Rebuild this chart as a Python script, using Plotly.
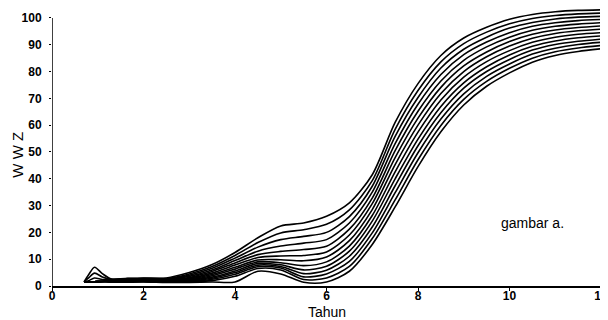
import plotly.graph_objects as go

# Time axis (Tahun)
tahun = [0.7, 0.8, 0.93, 1.1, 1.3, 1.6, 2.0, 2.5, 3.0, 3.5, 4.0, 4.5, 5.0, 5.5,
         6.0, 6.5, 7.0, 7.5, 8.0, 8.5, 9.0, 9.5, 10.0, 10.5, 11.0, 11.5, 12.0]

# Family of curves (top to bottom)
c0 = [1.5, 4.2, 7.0, 4.6, 2.6, 2.8, 3.0, 3.0, 5.0, 8.0, 12.5, 18.0, 22.4, 23.5, 26.0, 31.0, 41.5, 61.0, 75.5, 86.0, 92.5, 96.5, 99.5, 101.3, 102.3, 102.8, 103.0]
c1 = [1.5, 3.0, 4.8, 3.4, 2.5, 2.7, 2.9, 2.8, 4.5, 7.3, 11.4, 16.2, 19.8, 21.0, 23.0, 28.4, 39.3, 58.4, 72.9, 83.6, 90.4, 94.7, 97.8, 99.8, 100.9, 101.5, 101.8]
c2 = [1.5, 2.0, 3.0, 2.4, 2.4, 2.5, 2.7, 2.6, 4.0, 6.6, 10.4, 14.5, 17.3, 18.5, 20.0, 25.9, 37.2, 55.8, 70.3, 81.3, 88.3, 92.8, 96.2, 98.3, 99.6, 100.3, 100.6]
c3 = [1.5, 1.5, 1.6, 1.7, 2.3, 2.4, 2.6, 2.5, 3.6, 6.0, 9.5, 13.0, 14.9, 16.0, 17.3, 23.5, 35.0, 53.1, 67.8, 78.9, 86.3, 91.0, 94.5, 96.9, 98.2, 99.0, 99.4]
c4 = [1.5, 1.5, 1.6, 1.7, 2.2, 2.3, 2.5, 2.4, 3.2, 5.4, 8.6, 11.7, 12.9, 13.6, 14.8, 21.2, 32.8, 50.5, 65.2, 76.5, 84.2, 89.2, 92.8, 95.4, 96.9, 97.7, 98.2]
c5 = [1.5, 1.5, 1.6, 1.7, 2.1, 2.2, 2.4, 2.2, 2.9, 4.8, 7.8, 10.6, 11.2, 11.4, 12.7, 19.0, 30.7, 47.9, 62.6, 74.1, 82.1, 87.3, 91.2, 93.9, 95.5, 96.4, 97.0]
c6 = [1.5, 1.5, 1.6, 1.7, 2.0, 2.1, 2.3, 2.1, 2.6, 4.3, 7.0, 9.7, 9.8, 9.4, 10.8, 16.9, 28.5, 45.3, 60.0, 71.8, 80.0, 85.5, 89.5, 92.4, 94.2, 95.2, 95.8]
c7 = [1.5, 1.5, 1.6, 1.7, 1.9, 2.0, 2.1, 2.0, 2.3, 3.8, 6.3, 9.0, 8.7, 7.6, 9.0, 14.9, 26.3, 42.6, 57.4, 69.4, 77.9, 83.7, 87.8, 90.9, 92.8, 93.9, 94.5]
c8 = [1.5, 1.5, 1.6, 1.7, 1.8, 1.9, 2.0, 1.8, 2.1, 3.3, 5.6, 8.4, 7.9, 6.0, 7.4, 13.0, 24.2, 40.0, 54.8, 67.0, 75.8, 81.8, 86.2, 89.4, 91.4, 92.6, 93.3]
c9 = [1.5, 1.5, 1.6, 1.7, 1.7, 1.8, 1.9, 1.7, 1.9, 2.9, 5.0, 7.8, 7.3, 4.6, 5.9, 11.1, 22.0, 37.4, 52.3, 64.6, 73.8, 80.0, 84.5, 88.0, 90.1, 91.3, 92.1]
c10 = [1.5, 1.5, 1.6, 1.7, 1.6, 1.7, 1.8, 1.6, 1.7, 2.5, 4.4, 7.2, 6.7, 3.4, 4.5, 9.2, 19.8, 34.8, 49.7, 62.3, 71.7, 78.2, 82.8, 86.5, 88.7, 90.1, 90.9]
c11 = [1.5, 1.5, 1.6, 1.7, 1.5, 1.6, 1.6, 1.4, 1.5, 2.0, 3.6, 6.5, 6.0, 2.4, 3.0, 7.3, 17.7, 32.1, 47.1, 59.9, 69.6, 76.3, 81.2, 85.0, 87.4, 88.8, 89.7]
c12 = [1.5, 1.5, 1.6, 1.7, 1.4, 1.4, 1.5, 1.3, 1.3, 1.5, 1.5, 5.5, 4.5, 1.4, 1.5, 5.5, 15.5, 29.5, 44.5, 57.5, 67.5, 74.5, 79.5, 83.5, 86.0, 87.5, 88.5]

curves = [c0, c1, c2, c3, c4, c5, c6, c7, c8, c9, c10, c11, c12]

x_ticks = [0, 2, 4, 6, 8, 10, 12]
y_ticks = [0, 10, 20, 30, 40, 50, 60, 70, 80, 90, 100]

fig = go.Figure()
for c in curves:
    fig.add_trace(go.Scatter(x=tahun, y=c, mode="lines",
                             line=dict(color="black", width=1.6, shape="spline", smoothing=0.8),
                             showlegend=False, hoverinfo="skip"))

FONT = "Arial, Liberation Sans, sans-serif"
tick_font = dict(family=FONT, size=12, color="black", weight="bold")

# The page body has an 8px margin, so the figure is drawn 8px smaller.
fig.update_layout(
    width=600, height=312,
    margin=dict(l=44, r=5, t=0, b=34),
    paper_bgcolor="white", plot_bgcolor="white",
    xaxis=dict(range=[0, 12], tickvals=x_ticks, ticktext=[str(v) for v in x_ticks],
               showgrid=False, zeroline=False, showline=True, linecolor="black", linewidth=1.5,
               ticks="outside", ticklen=3, tickcolor="black", tickfont=tick_font,
               ticklabelstandoff=-5, ticklabeloverflow="allow"),
    yaxis=dict(range=[0, 103.7], tickvals=y_ticks, ticktext=[str(v) for v in y_ticks],
               showgrid=False, zeroline=False, showline=False,
               ticks="outside", ticklen=2, tickcolor="black", tickfont=tick_font,
               ticklabelstandoff=5),
    shapes=[dict(type="line", xref="x", yref="y", x0=0, x1=0, y0=0, y1=100,
                 line=dict(color="black", width=1.5))],
    annotations=[
        dict(text="Tahun", xref="x", yref="paper", x=6.0, y=0, yshift=-36, showarrow=False,
             xanchor="center", yanchor="bottom",
             font=dict(family=FONT, size=14, color="black")),
        dict(text="W W Z", xref="paper", yref="y", x=0, y=49, xshift=-34, showarrow=False,
             textangle=-90, xanchor="center", yanchor="middle",
             font=dict(family=FONT, size=15, color="black")),
        dict(text="gambar a.", xref="x", yref="y", x=9.78, y=23.5, showarrow=False,
             xanchor="left", yanchor="middle",
             font=dict(family=FONT, size=14, color="black")),
    ],
)

fig.write_html("out.html")
